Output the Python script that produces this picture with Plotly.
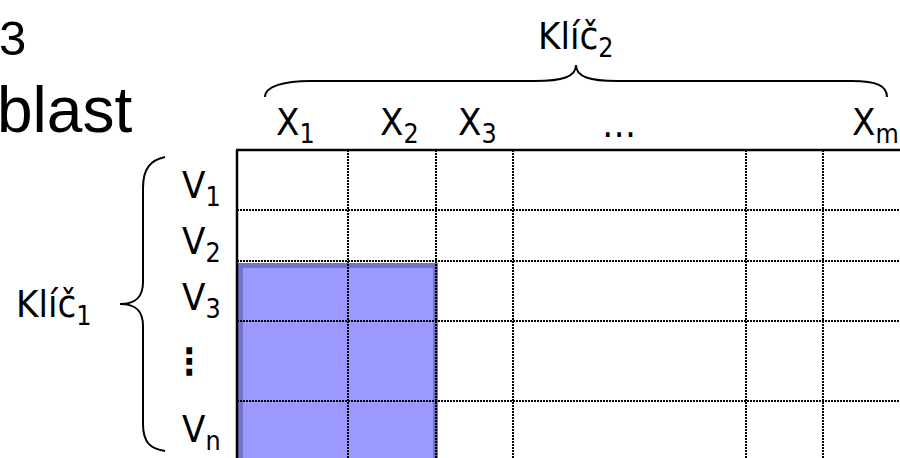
import plotly.graph_objects as go

# Grid structure (pixel-like diagram units)
col_edges = [237, 348, 436, 513, 746, 823, 900]
row_edges = [150, 210, 261, 321, 401, 458]

# Column header labels and their left x positions
col_labels = ["X<sub>1</sub>", "X<sub>2</sub>", "X<sub>3</sub>", "…", "X<sub>m</sub>"]
col_label_x = [274, 378, 456, 600, 850]

# Row labels and centre y positions
row_labels = ["V<sub>1</sub>", "V<sub>2</sub>", "V<sub>3</sub>", "⋮", "V<sub>n</sub>"]
row_label_y = [187, 243, 299, 361, 431]

# Highlighted block: rows V3..Vn, columns X1..X2
hl_cols = (0, 2)
hl_rows = (2, 5)

TAHOMA = "DejaVu Sans Condensed, DejaVu Sans, sans-serif"
ARIAL = "Liberation Sans, Arial, sans-serif"
FS = 38

fig = go.Figure()
fig.add_trace(go.Scatter(x=[0, 900], y=[0, 458], mode="markers",
                         marker=dict(opacity=0), hoverinfo="skip", showlegend=False))

shapes = []
# highlighted block
shapes.append(dict(type="rect", xref="x", yref="y",
                   x0=col_edges[hl_cols[0]] + 3.5, x1=col_edges[hl_cols[1]] - 0.5,
                   y0=row_edges[hl_rows[0]] + 4.5, y1=row_edges[hl_rows[1]] + 10,
                   fillcolor="#9999ff", line=dict(color="#7373c8", width=5)))
# dotted vertical lines
for x in col_edges[1:-1]:
    shapes.append(dict(type="line", xref="x", yref="y", x0=x, x1=x,
                       y0=row_edges[0], y1=row_edges[-1] + 5,
                       line=dict(color="black", width=2, dash="2px,1px")))
# dotted horizontal lines
for y in row_edges[1:-1]:
    shapes.append(dict(type="line", xref="x", yref="y", x0=col_edges[0], x1=col_edges[-1] + 5,
                       y0=y, y1=y,
                       line=dict(color="black", width=2, dash="2px,1px")))
# solid borders
shapes.append(dict(type="line", xref="x", yref="y", x0=col_edges[0] - 1, x1=col_edges[-1] + 5,
                   y0=row_edges[0], y1=row_edges[0], line=dict(color="black", width=2.5)))
shapes.append(dict(type="line", xref="x", yref="y", x0=col_edges[0], x1=col_edges[0],
                   y0=row_edges[0], y1=row_edges[-1] + 5, line=dict(color="black", width=2.5)))
# top brace
shapes.append(dict(type="path", xref="x", yref="y",
                   path="M 265,97 C 265,86 285,81 310,81 L 535,81 C 562,81 576,77 576,65 "
                        "C 576,77 590,81 617,81 L 852,81 C 877,81 887,86 887,97",
                   line=dict(color="black", width=2)))
# left brace
shapes.append(dict(type="path", xref="x", yref="y",
                   path="M 165,157 C 151,160 143,168 143,188 L 143,282 C 143,297 136,304 120,304 "
                        "C 136,304 143,311 143,326 L 143,424 C 143,443 151,449 165,451",
                   line=dict(color="black", width=2)))

annotations = []
for lab, x in zip(col_labels, col_label_x):
    annotations.append(dict(x=x, y=124, xref="x", yref="y", text=lab, showarrow=False,
                            xanchor="left", yanchor="middle",
                            font=dict(family=TAHOMA, size=FS, color="black")))
for lab, y in zip(row_labels, row_label_y):
    is_vdots = lab == "⋮"
    annotations.append(dict(x=180, y=y, xref="x", yref="y",
                            text="<b>" + lab + "</b>" if is_vdots else lab, showarrow=False,
                            xanchor="left", yanchor="middle",
                            xshift=-9 if is_vdots else 0,
                            font=dict(family=TAHOMA, size=36 if is_vdots else FS, color="black")))
annotations.append(dict(x=536, y=38, xref="x", yref="y", text="Klíč<sub>2</sub>", showarrow=False,
                        xanchor="left", yanchor="middle",
                        font=dict(family=TAHOMA, size=FS, color="black")))
annotations.append(dict(x=14, y=306, xref="x", yref="y", text="Klíč<sub>1</sub>", showarrow=False,
                        xanchor="left", yanchor="middle",
                        font=dict(family=TAHOMA, size=FS, color="black")))
annotations.append(dict(x=0, y=38, xref="x", yref="y", text="3", showarrow=False,
                        xanchor="left", yanchor="middle", xshift=-3,
                        font=dict(family=ARIAL, size=49, color="black")))
annotations.append(dict(x=0, y=110, xref="x", yref="y", text="blast", showarrow=False,
                        xanchor="left", yanchor="middle", xshift=-5,
                        font=dict(family=ARIAL, size=64, color="black")))

fig.update_layout(
    width=900, height=458,
    margin=dict(l=0, r=0, t=0, b=0),
    paper_bgcolor="white", plot_bgcolor="white",
    xaxis=dict(range=[0, 900], visible=False, fixedrange=True),
    yaxis=dict(range=[458, 0], visible=False, fixedrange=True),
    shapes=shapes, annotations=annotations, showlegend=False,
)

fig.write_html("out.html", config={"displayModeBar": False})

# remove the browser's default page margin so the figure sits at the window origin
with open("out.html", encoding="utf-8") as f:
    html = f.read()
html = html.replace("<head>", "<head><style>html,body{margin:0;padding:0;overflow:hidden;}</style>", 1)
with open("out.html", "w", encoding="utf-8") as f:
    f.write(html)
